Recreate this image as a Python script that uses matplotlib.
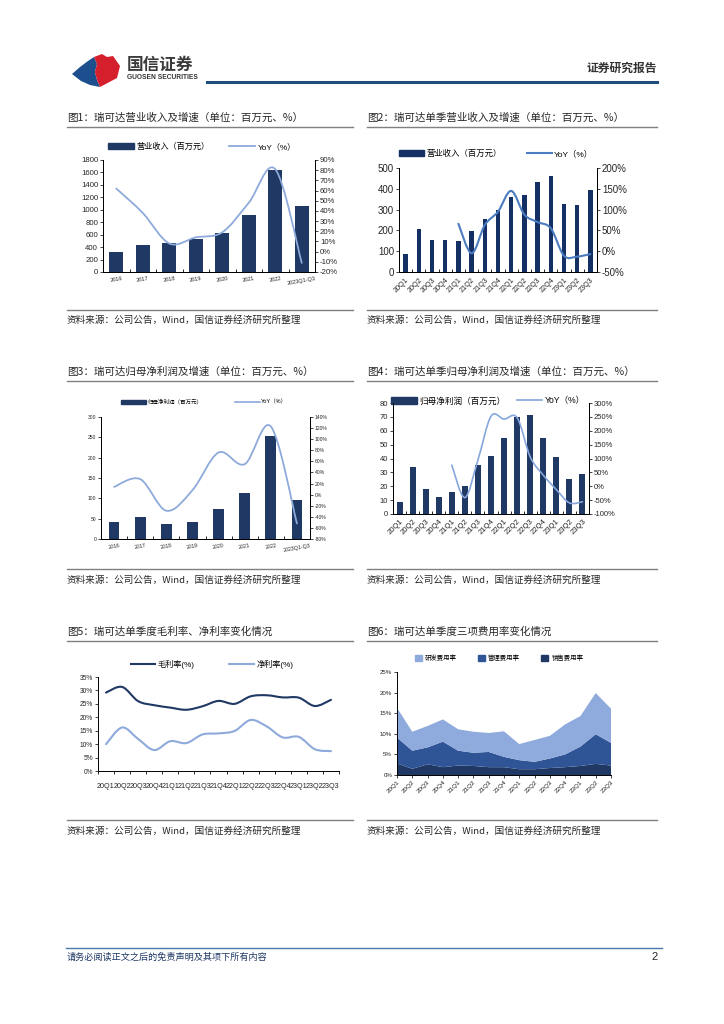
import numpy as np
import matplotlib
matplotlib.use('Agg')
import matplotlib.pyplot as plt
from matplotlib.path import Path
from matplotlib.patches import PathPatch, Patch, Polygon
from matplotlib.lines import Line2D

plt.rcParams['font.family'] = ['Liberation Sans', 'Noto Sans CJK SC', 'DejaVu Sans']
plt.rcParams['axes.linewidth'] = 0.7
plt.rcParams['xtick.major.width'] = 0.6
plt.rcParams['ytick.major.width'] = 0.6
plt.rcParams['xtick.minor.width'] = 0.6

W, H = 724, 1024

# 年度数据
years = ['2016', '2017', '2018', '2019', '2020', '2021', '2022', '2023Q1-Q3']
rev_year = [320, 430, 465, 525, 620, 915, 1640, 1060]
rev_year_yoy = [62, 38, 8, 14, 19, 48, 81, -11]
np_year = [42, 53, 38, 42, 73, 114, 253, 95]
np_year_yoy = [14, 28, -29, 8, 76, 55, 123, -52]

# 单季数据
quarters = ['20Q1', '20Q2', '20Q3', '20Q4', '21Q1', '21Q2', '21Q3', '21Q4',
            '22Q1', '22Q2', '22Q3', '22Q4', '23Q1', '23Q2', '23Q3']
rev_q = [88, 208, 155, 155, 148, 197, 253, 300, 362, 370, 432, 460, 327, 320, 393]
rev_q_yoy = [66, -5, 63, 95, 145, 88, 70, 55, -11, -13, -7]          # 21Q1 起
np_q = [9, 34, 18, 12, 16, 20, 35, 42, 55, 70, 71, 55, 41, 25, 29]
np_q_yoy = [76, -41, 95, 252, 242, 247, 106, 40, -12, -60, -56]     # 21Q1 起

gross_margin = [29.2, 31.3, 26.0, 24.5, 23.6, 22.8, 24.1, 26.1, 25.0, 27.8, 28.2, 27.4, 27.3, 24.2, 26.5]
net_margin = [10.0, 16.2, 11.9, 7.8, 11.1, 10.4, 13.6, 14.0, 14.9, 19.0, 16.6, 12.5, 12.7, 8.1, 7.4]

sales_rate = [2.8, 1.5, 2.6, 1.9, 2.3, 2.2, 1.9, 1.9, 1.4, 1.4, 1.7, 1.9, 2.2, 2.7, 2.3]
mgmt_rate = [6.3, 4.4, 4.1, 6.2, 3.6, 3.2, 3.7, 2.5, 2.2, 1.8, 2.3, 3.1, 4.7, 7.2, 5.5]
rd_rate = [7.2, 4.6, 5.2, 5.4, 5.2, 5.1, 4.6, 6.2, 3.9, 5.3, 5.5, 7.3, 7.4, 10.0, 8.3]

NAVY = '#1f3864'
BAR2 = '#142f63'
LIGHT = '#8eaadb'
MID = '#4a7cbf'
TXT = '#262626'
GRAY = '#808080'

fig = plt.figure(figsize=(W / 100, H / 100), dpi=100)
fig.patch.set_facecolor('white')

# 页面装饰层（像素坐标）
bg = fig.add_axes([0, 0, 1, 1])
bg.set_xlim(0, W)
bg.set_ylim(H, 0)
bg.axis('off')


def px_axes(x0, y0, x1, y1):
    return fig.add_axes([x0 / W, 1 - y1 / H, (x1 - x0) / W, (y1 - y0) / H])


def fpos(x, y):
    return (x / W, 1 - y / H)


def smooth_line(ax, xs, ys, color, lw):
    pts = np.column_stack([xs, ys]).astype(float)
    n = len(pts)
    verts = [pts[0]]
    codes = [Path.MOVETO]
    for i in range(n - 1):
        p0 = pts[max(i - 1, 0)]
        p1 = pts[i]
        p2 = pts[i + 1]
        p3 = pts[min(i + 2, n - 1)]
        verts += [p1 + (p2 - p0) / 6, p2 - (p3 - p1) / 6, p2]
        codes += [Path.CURVE4] * 3
    ax.add_patch(PathPatch(Path(verts, codes), fill=False, edgecolor=color, lw=lw,
                           capstyle='round', joinstyle='round', zorder=3))


def bar_line(ax, labels, bars, lx, ly, ylim, yticks, y2ticks, bar_w, bar_c, line_c,
             fs, fs_x, rot, lw=1.3):
    x = np.arange(len(labels))
    ax.bar(x, bars, width=bar_w, color=bar_c, zorder=2)
    ax.set_xlim(-0.5, len(labels) - 0.5)
    ax.set_ylim(*ylim)
    ax.set_yticks(yticks)
    ax.tick_params(axis='y', labelsize=fs, length=2, pad=1.5, colors=TXT)
    ax.set_xticks(x)
    if rot == 45:
        ax.set_xticklabels(labels, fontsize=fs_x, rotation=45, ha='right', rotation_mode='anchor')
    else:
        ax.set_xticklabels(labels, fontsize=fs_x, rotation=rot)
    ax.set_xticks(np.arange(len(labels) + 1) - 0.5, minor=True)
    ax.tick_params(axis='x', which='major', length=0, pad=3, colors=TXT)
    ax.tick_params(axis='x', which='minor', length=2, direction='in')
    ax.spines['top'].set_visible(False)
    ax2 = ax.twinx()
    ax2.set_ylim(y2ticks[0], y2ticks[-1])
    ax2.set_yticks(y2ticks)
    ax2.set_yticklabels([f'{v}%' for v in y2ticks])
    ax2.tick_params(axis='y', labelsize=fs, length=2, pad=1.5, colors=TXT)
    ax2.spines['top'].set_visible(False)
    smooth_line(ax2, lx, ly, line_c, lw)
    return ax2


def add_legend(ax, handles, labels, cx, cy, fs, hl, cs, ncol=2, hh=0.7, tp=0.4):
    ax.legend(handles, labels, loc='center', bbox_to_anchor=fpos(cx, cy),
              bbox_transform=fig.transFigure, ncol=ncol, frameon=False, fontsize=fs,
              handlelength=hl, handleheight=hh, columnspacing=cs, handletextpad=tp,
              borderpad=0, borderaxespad=0)


# ---------------- 页眉 ----------------
bg.add_patch(Polygon([(72, 74), (80, 67), (88, 61), (94, 57), (97, 64), (95, 72), (97, 80), (100, 87),
                      (90, 85), (81, 81)], closed=True, color='#1d4f8f', lw=0))
bg.add_patch(Polygon([(94, 57), (102, 54), (107, 57), (113, 56), (120, 66), (117, 78), (100, 87),
                      (97, 80), (95, 72), (97, 64)], closed=True, color='#d61f2c', lw=0))
bg.text(127, 65, '国信证券', fontsize=12, fontweight='bold', color='#3a3a3a', va='center',
        family=['Noto Sans CJK SC'])
bg.text(127, 77.5, 'GUOSEN SECURITIES', fontsize=4.8, fontweight='bold', color='#333333', va='center')
bg.text(657, 68, '证券研究报告', fontsize=8.5, fontweight='bold', color='#333333', va='center', ha='right',
        family=['Noto Sans CJK SC'])
bg.plot([207, 657], [81.5, 81.5], color='#1f4e79', lw=2.2)

# 标题与来源
titles = [(67, 118, '图1：瑞可达营业收入及增速（单位：百万元、%）'),
          (367, 118, '图2：瑞可达单季营业收入及增速（单位：百万元、%）'),
          (67, 372, '图3：瑞可达归母净利润及增速（单位：百万元、%）'),
          (367, 372, '图4：瑞可达单季归母净利润及增速（单位：百万元、%）'),
          (67, 632, '图5：瑞可达单季度毛利率、净利率变化情况'),
          (367, 632, '图6：瑞可达单季度三项费用率变化情况')]
for tx, ty, t in titles:
    bg.text(tx, ty, t, fontsize=7.6, color=TXT, va='center', family=['Noto Sans CJK SC', 'DejaVu Sans'])
for ly in (127, 381, 641):
    bg.plot([67, 353], [ly, ly], color=GRAY, lw=1)
    bg.plot([367, 657], [ly, ly], color=GRAY, lw=1)
src = '资料来源：公司公告，Wind，国信证券经济研究所整理'
for ly, ty in ((310, 320), (569, 580), (820, 831)):
    bg.plot([67, 353], [ly, ly], color=GRAY, lw=1)
    bg.plot([367, 657], [ly, ly], color=GRAY, lw=1)
    bg.text(67, ty, src, fontsize=6.9, color=TXT, va='center', family=['Noto Sans CJK SC', 'DejaVu Sans'])
    bg.text(367, ty, src, fontsize=6.9, color=TXT, va='center', family=['Noto Sans CJK SC', 'DejaVu Sans'])

# 页脚
bg.plot([66, 662], [948, 948], color='#4a78a8', lw=1)
bg.text(67, 957, '请务必阅读正文之后的免责声明及其项下所有内容', fontsize=6.6, color='#1f3864', va='center',
        family=['Noto Sans CJK SC'])
bg.text(658, 957, '2', fontsize=8, color=TXT, va='center', ha='right')

# ---------------- 图1 ----------------
ax1 = px_axes(103, 160, 315, 272)
bar_line(ax1, years, rev_year, np.arange(len(years)), rev_year_yoy, (0, 1800), np.arange(0, 1801, 200),
         list(range(-20, 91, 10)), 0.53, NAVY, LIGHT, 5.6, 4.0, 10)
add_legend(ax1, [Patch(color=NAVY), Line2D([], [], color=LIGHT, lw=1.3)],
           ['营业收入（百万元）', 'YoY（%）'], 202, 147, 5.9, 3.2, 2.4, hh=0.8, tp=0.3)

# ---------------- 图2 ----------------
ax2 = px_axes(399, 168, 597, 272)
bar_line(ax2, quarters, rev_q, np.arange(4, 15), rev_q_yoy, (0, 500), np.arange(0, 501, 100),
         list(range(-50, 201, 50)), 0.33, BAR2, MID, 7, 5.2, 45, lw=1.5)
add_legend(ax2, [Patch(color=BAR2), Line2D([], [], color=MID, lw=1.5)],
           ['营业收入（百万元）', 'YoY（%）'], 496, 154, 6.0, 3.0, 3.0, hh=0.8, tp=0.3)

# ---------------- 图3 ----------------
ax3 = px_axes(101, 417, 310, 539)
bar_line(ax3, years, np_year, np.arange(len(years)), np_year_yoy, (0, 300), np.arange(0, 301, 50),
         list(range(-80, 141, 20)), 0.41, NAVY, LIGHT, 3.6, 3.8, 10)
add_legend(ax3, [Patch(color=NAVY), Line2D([], [], color=LIGHT, lw=1.2)],
           ['归母净利润（百万元）', 'YoY（%）'], 204, 402, 4.0, 4.5, 5.8, hh=0.8, tp=0.3)

# ---------------- 图4 ----------------
ax4 = px_axes(393, 403, 589, 514)
bar_line(ax4, quarters, np_q, np.arange(4, 15), np_q_yoy, (0, 80), np.arange(0, 81, 10),
         list(range(-100, 301, 50)), 0.46, NAVY, '#86a6dc', 5.5, 5.5, 45, lw=1.2)
add_legend(ax4, [Patch(color=NAVY), Line2D([], [], color='#86a6dc', lw=1.2)],
           ['归母净利润（百万元）', 'YoY（%）'], 488, 401, 6.2, 3.0, 1.3, hh=0.8, tp=0.3)

# ---------------- 图5 ----------------
ax5 = px_axes(98, 677, 339, 771)
xq = np.arange(len(quarters))
smooth_line(ax5, xq, gross_margin, NAVY, 1.5)
smooth_line(ax5, xq, net_margin, LIGHT, 1.5)
ax5.set_xlim(-0.5, len(quarters) - 0.5)
ax5.set_ylim(0, 35)
ax5.set_yticks(range(0, 36, 5))
ax5.set_yticklabels([f'{v}%' for v in range(0, 36, 5)])
ax5.tick_params(axis='y', labelsize=4.8, length=2, pad=1.5, colors=TXT)
ax5.set_xticks(xq)
ax5.set_xticklabels(quarters, fontsize=5.2)
ax5.set_xticks(np.arange(len(quarters) + 1) - 0.5, minor=True)
ax5.tick_params(axis='x', which='major', length=0, pad=9, colors=TXT)
ax5.tick_params(axis='x', which='minor', length=2.5, direction='out')
for s in ('top', 'right'):
    ax5.spines[s].set_visible(False)
add_legend(ax5, [Line2D([], [], color=NAVY, lw=1.5), Line2D([], [], color=LIGHT, lw=1.5)],
           ['毛利率(%)', '净利率(%)'], 212, 664, 5.9, 3.0, 4.2, tp=0.3)

# ---------------- 图6 ----------------
ax6 = px_axes(397, 672, 611, 775)
ax6.stackplot(xq, sales_rate, mgmt_rate, rd_rate, colors=['#1f3864', '#2f5597', '#8faadc'], lw=0)
ax6.set_xlim(0, len(quarters) - 1)
ax6.set_ylim(0, 25)
ax6.set_yticks(range(0, 26, 5))
ax6.set_yticklabels([f'{v}%' for v in range(0, 26, 5)])
ax6.tick_params(axis='y', labelsize=4.4, length=2, pad=1.5, colors=TXT)
ax6.set_xticks(xq)
ax6.set_xticklabels(quarters, fontsize=4.6, rotation=45, ha='right', rotation_mode='anchor')
ax6.tick_params(axis='x', length=2, pad=1.5, colors=TXT)
for s in ('top', 'right'):
    ax6.spines[s].set_visible(False)
add_legend(ax6, [Patch(color='#8faadc'), Patch(color='#2f5597'), Patch(color='#1f3864')],
           ['研发费用率', '管理费用率', '销售费用率'], 499, 658, 4.6, 1.1, 3.3, ncol=3, hh=1.1, tp=0.5)

fig.savefig('out.png', dpi=100, facecolor='white')
